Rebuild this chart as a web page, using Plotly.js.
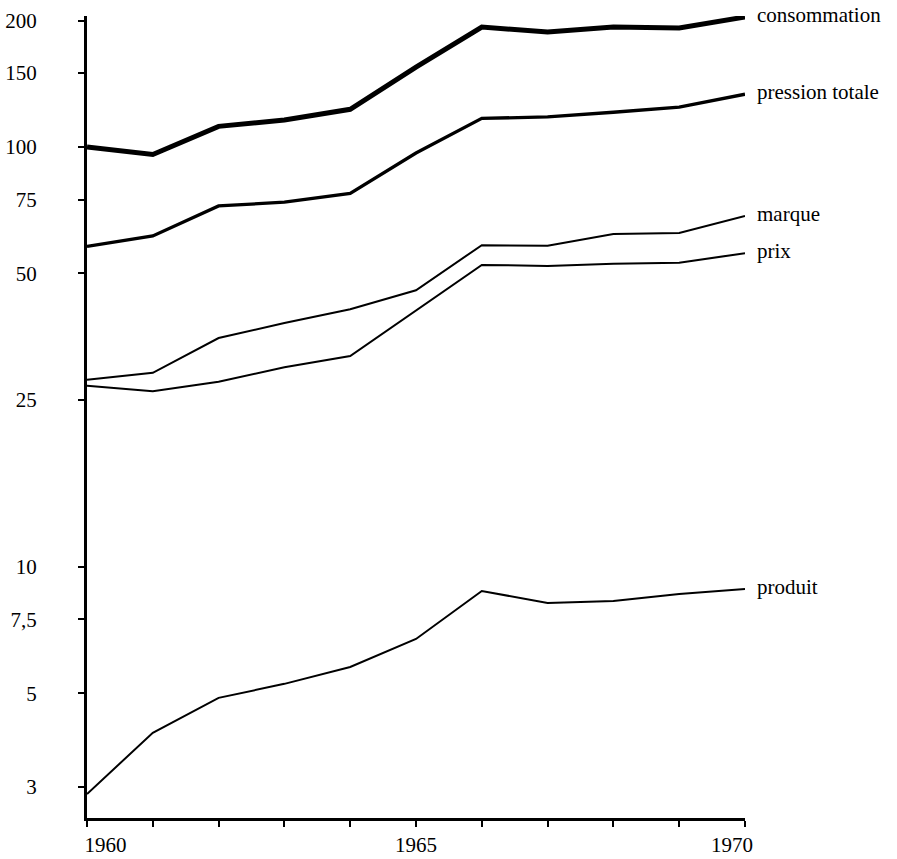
<!DOCTYPE html>
<html>
<head>
<meta charset="utf-8">
<script src="https://cdn.plot.ly/plotly-3.0.1.min.js"></script>
<style>html,body{margin:0;padding:0;background:#fff}#chart{width:897px;height:859px}</style>
</head>
<body>
<div id="chart"></div>
<script>
const years = [1960,1961,1962,1963,1964,1965,1966,1967,1968,1969,1970];
const consommation = [100, 96, 112, 116, 123, 155, 193, 188, 193, 192, 204];
const pressionTotale = [58, 61.4, 72.4, 73.9, 77.6, 96.8, 117, 118, 121, 124.5, 133.6];
const marque = [27.9, 29.0, 35.1, 38.1, 41.1, 45.6, 58.4, 58.2, 62.1, 62.4, 68.5];
const prix = [27.0, 26.2, 27.6, 29.9, 31.8, 40.9, 52.4, 52.1, 52.7, 53.0, 55.9];
const produit = [2.88, 4.03, 4.88, 5.27, 5.78, 6.74, 8.77, 8.21, 8.30, 8.62, 8.86];
const seriesNames = ["consommation", "pression totale", "marque", "prix", "produit"];
const yTickVals = [3, 5, 7.5, 10, 25, 50, 75, 100, 150, 200];
const yTickText = ["3", "5", "7,5", "10", "25", "50", "75", "100", "150", "200"];
const xTickText = ["1960", "", "", "", "", "1965", "", "", "", "", "1970"];

const NB = "\u00a0";
// end labels sit inward from the axis ends, as in the original typesetting
const xTickDisplay = xTickText.map((t, i) =>
  i === 0 ? NB.repeat(7) + t : (i === xTickText.length - 1 ? t + NB.repeat(5) : t));

const seriesValues = [consommation, pressionTotale, marque, prix, produit];
const widths = [5, 3.3, 2, 2, 2];
const FONT = "Liberation Serif, Times New Roman, serif";

const traces = seriesValues.map((vals, i) => ({
  x: years, y: vals, type: "scatter", mode: "lines", name: seriesNames[i],
  line: {color: "#000", width: widths[i]}, hoverinfo: "skip", cliponaxis: false
}));

const annotations = seriesValues.map((vals, i) => ({
  x: years[years.length - 1], y: Math.log10(vals[vals.length - 1]),
  xref: "x", yref: "y", text: seriesNames[i], showarrow: false,
  xanchor: "left", yanchor: "middle", xshift: 10, yshift: 2,
  font: {family: FONT, size: 21, color: "#000"}
}));

const layout = {
  width: 897, height: 859,
  margin: {l: 87, r: 152, t: 16, b: 41},
  paper_bgcolor: "#fff", plot_bgcolor: "#fff",
  showlegend: false,
  font: {family: FONT, size: 21, color: "#000"},
  xaxis: {
    range: [1960, 1970], tickvals: years, ticktext: xTickDisplay,
    ticks: "outside", ticklen: 6, tickwidth: 2, tickcolor: "#000",
    showline: true, linewidth: 3, linecolor: "#000",
    showgrid: false, zeroline: false,
    tickfont: {family: FONT, size: 21, color: "#000"}
  },
  yaxis: {
    type: "log", range: [0.4024, 2.312],
    tickvals: yTickVals, ticktext: yTickText,
    ticks: "outside", ticklen: 6, tickwidth: 2, tickcolor: "#000",
    showline: true, linewidth: 3, linecolor: "#000",
    showgrid: false, zeroline: false,
    ticklabelstandoff: 37,
    tickfont: {family: FONT, size: 21, color: "#000"}
  },
  annotations: annotations
};

Plotly.newPlot("chart", traces, layout, {displayModeBar: false, staticPlot: true});
</script>
</body>
</html>
